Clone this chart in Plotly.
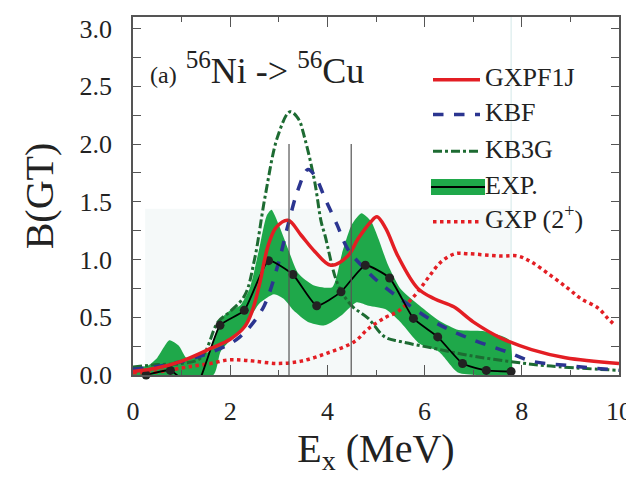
import plotly.graph_objects as go

# ---------------- data ----------------
gxpf1j_x = [0, 0.5, 1.0, 1.6, 2.0, 2.3, 2.45, 2.6, 2.78, 2.95, 3.19, 3.46, 3.74, 4.07, 4.42, 4.63, 4.9, 5.02, 5.2, 5.45, 5.86, 6.2, 6.6, 7.0, 7.57, 8.2, 8.9, 10]
gxpf1j_y = [0.03, 0.06, 0.12, 0.23, 0.31, 0.42, 0.55, 0.78, 1.12, 1.28, 1.34, 1.21, 1.07, 0.95, 1.03, 1.18, 1.33, 1.37, 1.27, 1.03, 0.75, 0.66, 0.59, 0.46, 0.32, 0.22, 0.15, 0.10]

kbf_x = [0, 0.6, 1.28, 1.95, 2.2, 2.43, 2.7, 2.98, 3.19, 3.4, 3.6, 3.75, 3.95, 4.2, 4.42, 4.77, 5.04, 5.5, 6.2, 6.9, 7.7, 8.2, 9.0, 10]
kbf_y = [0.05, 0.08, 0.15, 0.26, 0.33, 0.43, 0.6, 0.95, 1.3, 1.61, 1.78, 1.72, 1.53, 1.3, 1.09, 0.92, 0.81, 0.66, 0.46, 0.32, 0.2, 0.12, 0.08, 0.04]

kb3g_x = [0, 0.5, 1.0, 1.4, 1.75, 2.0, 2.3, 2.5, 2.72, 2.98, 3.23, 3.4, 3.54, 3.74, 3.87, 3.95, 4.22, 4.5, 4.84, 5.18, 5.5, 6.2, 6.9, 7.7, 8.5, 10]
kb3g_y = [0.07, 0.09, 0.1, 0.15, 0.46, 0.55, 0.69, 1.0, 1.55, 2.07, 2.28, 2.22, 2.04, 1.67, 1.33, 1.21, 0.78, 0.6, 0.49, 0.33, 0.29, 0.23, 0.17, 0.12, 0.08, 0.04]

exp_x = [0.27, 0.77, 1.27, 1.79, 2.29, 2.79, 3.29, 3.78, 4.28, 4.78, 5.28, 5.77, 6.27, 6.78, 7.27, 7.78]
exp_y = [0.0, 0.04, -0.12, 0.43, 0.56, 0.99, 0.87, 0.60, 0.72, 0.95, 0.84, 0.49, 0.33, 0.10, 0.04, 0.03]

band_up_x = [0, 0.3, 0.5, 0.75, 0.95, 1.1, 1.3, 1.55, 1.7, 1.8, 2.0, 2.2, 2.4, 2.6, 2.75, 2.85, 3.0, 3.2, 3.4, 3.7, 4.1, 4.3, 4.5, 4.7, 4.9, 5.05, 5.25, 5.5, 5.9, 6.3, 6.7, 7.2, 7.75, 7.8]
band_up_y = [0.07, 0.08, 0.15, 0.30, 0.25, 0.15, 0.17, 0.2, 0.35, 0.48, 0.56, 0.6, 0.75, 1.1, 1.38, 1.43, 1.3, 1.08, 0.88, 0.78, 0.76, 1.05, 1.3, 1.4, 1.33, 1.18, 0.95, 0.75, 0.6, 0.47, 0.39, 0.38, 0.3, 0.0]
band_lo_x = [0, 1.65, 1.8, 2.0, 2.3, 2.6, 2.9, 3.1, 3.3, 3.6, 3.95, 4.3, 4.6, 4.85, 5.2, 5.5, 5.9, 6.3, 6.7, 7.8]
band_lo_y = [0.0, 0.0, 0.2, 0.3, 0.42, 0.62, 0.7, 0.66, 0.56, 0.46, 0.43, 0.52, 0.63, 0.6, 0.57, 0.46, 0.27, 0.2, 0.02, 0.0]

gxp2_x = [0, 0.31, 0.58, 0.99, 1.28, 1.6, 1.95, 2.22, 2.5, 2.98, 3.46, 4.0, 4.56, 4.84, 5.2, 5.45, 5.8, 6.07, 6.34, 6.63, 6.9, 7.57, 7.92, 8.19, 8.6, 8.95, 9.22, 9.57, 9.77, 9.92]
gxp2_y = [0.02, 0.02, 0.03, 0.06, 0.08, 0.10, 0.13, 0.13, 0.12, 0.10, 0.12, 0.19, 0.29, 0.40, 0.50, 0.55, 0.69, 0.84, 0.98, 1.05, 1.05, 1.03, 1.03, 0.98, 0.86, 0.75, 0.66, 0.58, 0.49, 0.43]

vline_x = [3.21, 4.49]
vline_top = 2.0
shade_x = [0.25, 7.78]
shade_top = 1.44

legend_names = ["GXPF1J", "KBF", "KB3G", "EXP.", "GXP (2<sup>+</sup>)"]
title_text = "<span style='font-size:24px'>(a)</span>&nbsp;<sup>56</sup>Ni&nbsp;-&gt;&nbsp;<sup>56</sup>Cu"

RED = "#e31e24"
BLUE = "#2b3590"
DGREEN = "#1d6b32"
BGREEN = "#1fa84a"
FONT = "Liberation Serif"
TXT = "#222222"

# plot area in pixels
L, R, T, B = 125, 611, 7, 367
W, H = 634, 487
XMAX, YMAX = 10, 3.1


def px(xp):
    return (xp - L) / (R - L)


def py(yp):
    return (B - yp) / (B - T)


def dx(xp):
    return px(xp) * XMAX


def dy(yp):
    return py(yp) * YMAX


fig = go.Figure()

# light shaded background region
fig.add_shape(type="rect", xref="x", yref="y", x0=shade_x[0], x1=shade_x[1], y0=0, y1=shade_top,
              fillcolor="#f5f9f9", line_width=0, layer="below")
fig.add_shape(type="line", xref="x", yref="y", x0=shade_x[1], x1=shade_x[1], y0=0, y1=YMAX,
              line=dict(color="#d3e8e8", width=1), layer="below")

# experimental band
fig.add_trace(go.Scatter(x=band_up_x + band_lo_x[::-1], y=band_up_y + band_lo_y[::-1],
                         fill="toself", fillcolor=BGREEN, line=dict(width=0, shape="spline", smoothing=0.6),
                         mode="lines", hoverinfo="skip", showlegend=False))

# vertical lines
for xv in vline_x:
    fig.add_shape(type="line", xref="x", yref="y", x0=xv, x1=xv, y0=0, y1=vline_top,
                  line=dict(color="#555555", width=1.2))

fig.add_trace(go.Scatter(x=gxp2_x, y=gxp2_y, mode="lines",
                         line=dict(color=RED, width=3.5, dash="dot", shape="spline"), showlegend=False))
fig.add_trace(go.Scatter(x=kb3g_x, y=kb3g_y, mode="lines",
                         line=dict(color=DGREEN, width=3, dash="dashdot", shape="spline"), showlegend=False))
fig.add_trace(go.Scatter(x=kbf_x, y=kbf_y, mode="lines",
                         line=dict(color=BLUE, width=3.5, dash="dash", shape="spline"), showlegend=False))
fig.add_trace(go.Scatter(x=exp_x, y=exp_y, mode="lines",
                         line=dict(color="black", width=1.8, shape="spline", smoothing=0.5), showlegend=False))
fig.add_trace(go.Scatter(x=[a for a, b in zip(exp_x, exp_y) if b >= 0],
                         y=[b for b in exp_y if b >= 0], mode="markers", cliponaxis=False,
                         marker=dict(color="#222222", size=9), showlegend=False))
fig.add_trace(go.Scatter(x=gxpf1j_x, y=gxpf1j_y, mode="lines",
                         line=dict(color=RED, width=3.5, shape="spline"), showlegend=False))

# ---------- manual legend ----------
rows_y = [70, 105, 142, 178, 213]
sx0, sx1 = 425, 472
styles = [dict(color=RED, width=3.5), dict(color=BLUE, width=3.5, dash="dash"),
          dict(color=DGREEN, width=3, dash="dashdot"), None, dict(color=RED, width=3.5, dash="dot")]
for i, yy in enumerate(rows_y):
    if styles[i] is None:
        fig.add_shape(type="rect", xref="paper", yref="paper", x0=px(423), x1=px(477),
                      y0=py(yy + 8), y1=py(yy - 8), fillcolor=BGREEN, line_width=0)
        fig.add_shape(type="line", xref="paper", yref="paper", x0=px(423), x1=px(477),
                      y0=py(yy), y1=py(yy), line=dict(color="black", width=2))
    else:
        fig.add_shape(type="line", xref="paper", yref="paper", x0=px(sx0), x1=px(sx1),
                      y0=py(yy), y1=py(yy), line=styles[i])

# legend labels as text trace (serif font)
fig.add_trace(go.Scatter(x=[dx(477)] * len(rows_y), y=[dy(yy) for yy in rows_y], mode="text",
                         text=legend_names, textposition="middle right", cliponaxis=False,
                         textfont=dict(family=FONT, size=26, color=TXT), hoverinfo="skip", showlegend=False))
# panel title
fig.add_trace(go.Scatter(x=[dx(142)], y=[dy(64)], mode="text", text=[title_text],
                         textposition="middle right", cliponaxis=False,
                         textfont=dict(family=FONT, size=36, color=TXT), hoverinfo="skip", showlegend=False))

axis_common = dict(showgrid=False, zeroline=False, showline=True, linecolor="#555555", linewidth=1.5,
                   mirror="allticks", ticks="inside", tickcolor="#555555", tickwidth=1.2,
                   ticklabeloverflow="allow",
                   tickfont=dict(family=FONT, size=26, color=TXT))

fig.update_xaxes(range=[0, XMAX], dtick=2, tick0=0, ticklen=10,
                 minor=dict(dtick=1, ticklen=5, ticks="inside", tickcolor="#555555"),
                 ticklabelstandoff=12,
                 title=dict(text="E<sub>x</sub> (MeV)", font=dict(family=FONT, size=40, color=TXT), standoff=8),
                 **axis_common)
fig.update_yaxes(range=[0, YMAX], dtick=0.5, tick0=0, ticklen=8, tickformat=".1f",
                 minor=dict(dtick=0.25, ticklen=8, ticks="inside", tickcolor="#555555"),
                 ticklabelstandoff=14,
                 title=dict(text="B(GT)", font=dict(family=FONT, size=40, color=TXT), standoff=14),
                 **axis_common)

fig.update_layout(width=W, height=H, margin=dict(l=L, r=W - R, t=T, b=H - B),
                  font=dict(family=FONT, color=TXT),
                  plot_bgcolor="white", paper_bgcolor="white", showlegend=False)

fig.write_html("out.html")
